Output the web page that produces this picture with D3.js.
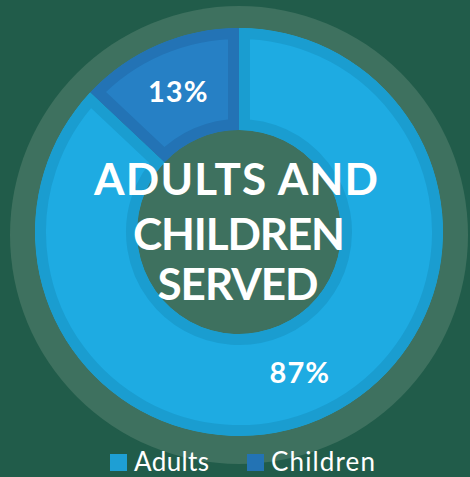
<!DOCTYPE html>
<html>
<head>
<meta charset="utf-8">
<script src="https://cdn.jsdelivr.net/npm/d3@7"></script>
<style>
  body { margin: 0; background: #215c4a; overflow: hidden; }
  text { font-family: "Lato", "Open Sans", sans-serif; fill: #ffffff; }
</style>
</head>
<body>
<svg id="donutchart"></svg>
<script>
// chart data
var categories = ["Adults", "Children"];
var values = [87, 13];
var valueLabels = ["87%", "13%"];
var titleLines = ["ADULTS AND", "CHILDREN", "SERVED"];

var dimensions = {
    width: 470,
    height: 477,
    cx: 239,
    cy: 232,
    outer: 204,
    inner: 102,
    halo: 229
};

var fillColor = d3.scaleOrdinal()
                  .domain(categories)
                  .range(["#1eabe2", "#2680c5"]);
var borderColor = d3.scaleOrdinal()
                    .domain(categories)
                    .range(["#1a9dd0", "#2373b5"]);

var svg = d3.select("#donutchart")
            .attr("width", dimensions.width)
            .attr("height", dimensions.height);

svg.append("rect")
   .attr("width", dimensions.width)
   .attr("height", dimensions.height)
   .attr("fill", "#215c4a");

var g = svg.append("g")
           .attr("transform", "translate(" + dimensions.cx + "," + dimensions.cy + ")");

// lighter ring behind the donut (also shows through the hole)
g.append("circle")
 .attr("cx", 0)
 .attr("cy", 3)
 .attr("r", dimensions.halo)
 .attr("fill", "#3e715f");

var pie = d3.pie().sort(null).value(d => d.value);
var arcs = pie(categories.map((c, i) => ({ key: c, value: values[i], label: valueLabels[i] })));

var arc = d3.arc()
            .innerRadius(dimensions.inner)
            .outerRadius(dimensions.outer);

// clip each slice to itself so the border stroke sits inside
var defs = svg.append("defs");
defs.selectAll("clipPath")
    .data(arcs)
    .enter()
    .append("clipPath")
    .attr("id", (d, i) => "slice-clip-" + i)
    .append("path")
    .attr("d", arc);

g.selectAll("path.slice")
 .data(arcs)
 .enter()
 .append("path")
 .attr("class", "slice")
 .attr("d", arc)
 .attr("fill", d => fillColor(d.data.key))
 .attr("stroke", d => borderColor(d.data.key))
 .attr("stroke-width", 22)
 .attr("clip-path", (d, i) => "url(#slice-clip-" + i + ")");

// percentage labels
var labelArc = d3.arc()
                 .innerRadius((dimensions.inner + dimensions.outer) / 2)
                 .outerRadius((dimensions.inner + dimensions.outer) / 2);

g.selectAll("text.pct")
 .data(arcs)
 .enter()
 .append("text")
 .attr("class", "pct")
 .attr("transform", d => "translate(" + labelArc.centroid(d) + ")")
 .attr("dy", "0.36em")
 .attr("text-anchor", "middle")
 .style("font-size", "29px")
 .style("font-weight", 700)
 .style("letter-spacing", "1px")
 .text(d => d.data.label);

// center title
var titleWidths = [284, 212, 161];
var titleBaselines = [195, 250, 300];
var titleCenters = [236, 239, 238];

svg.selectAll("text.title")
   .data(titleLines)
   .enter()
   .append("text")
   .attr("class", "title")
   .attr("x", (d, i) => titleCenters[i])
   .attr("y", (d, i) => titleBaselines[i])
   .attr("text-anchor", "middle")
   .attr("textLength", (d, i) => titleWidths[i])
   .attr("lengthAdjust", "spacing")
   .style("font-size", "44px")
   .style("font-weight", 700)
   .text(d => d);

// legend
var legendX = [110, 247];
var legendSwatch = d3.scaleOrdinal()
                     .domain(categories)
                     .range(["#1e9fd4", "#2373b4"]);

var legend = svg.append("g");

legend.selectAll("rect")
      .data(categories)
      .enter()
      .append("rect")
      .attr("x", (d, i) => legendX[i])
      .attr("y", 454)
      .attr("width", 17)
      .attr("height", 17)
      .attr("fill", d => legendSwatch(d));

legend.selectAll("text")
      .data(categories)
      .enter()
      .append("text")
      .attr("x", (d, i) => legendX[i] + 24)
      .attr("y", 471)
      .attr("textLength", (d, i) => [75, 104][i])
      .attr("lengthAdjust", "spacing")
      .style("font-size", "26px")
      .text(d => d);
</script>
</body>
</html>
